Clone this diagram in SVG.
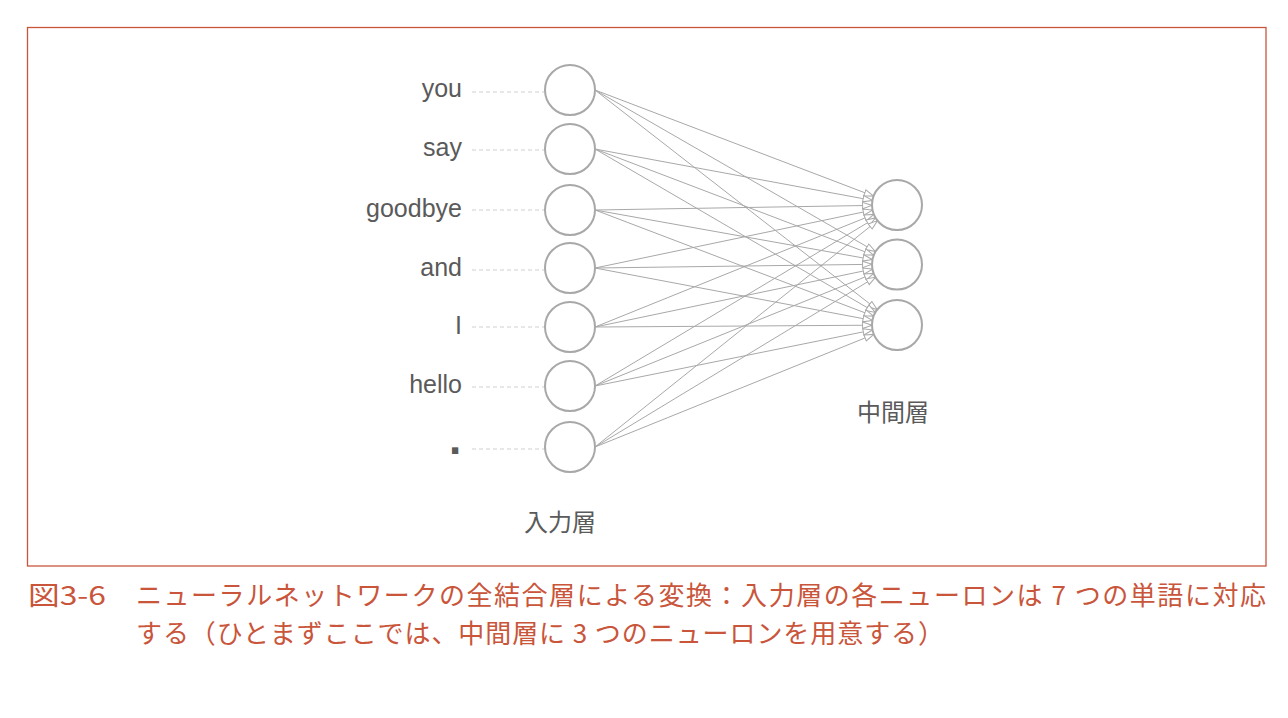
<svg xmlns="http://www.w3.org/2000/svg" width="1288" height="718" viewBox="0 0 1288 718">
<style>
.frame{fill:none;stroke:#c9553b;stroke-width:1.3}
.word{font-family:"Liberation Sans",Arial,sans-serif;font-size:25px;fill:#5a5a5a;text-anchor:end}
.layer{font-family:"Noto Sans CJK JP",sans-serif;font-size:24px;fill:#5a5a5a;text-anchor:middle}
.dash{stroke:#cfcfcf;stroke-width:1;stroke-dasharray:4 3}
.node{fill:#fff;stroke:#a8a8a8;stroke-width:2}
.edge{stroke:#a8a8a8;stroke-width:1;fill:none;marker-end:url(#arr)}
.cap{font-family:"Noto Sans CJK JP",sans-serif;font-size:26px;fill:#c9553b}
</style>
<defs>
<marker id="arr" markerUnits="userSpaceOnUse" markerWidth="12" markerHeight="10" refX="10" refY="4" orient="auto">
<path d="M0.6,0.8 L10,4 L0.6,7.2 Z" fill="#fff" stroke="#a8a8a8" stroke-width="1"/>
</marker>
</defs>
<rect class="frame" x="27.5" y="27.5" width="1238.5" height="538.5"/>
<g id="connectors">
<path class="edge" d="M595,90 L873.6,196.1"/>
<path class="edge" d="M595,90 L875.3,251.5"/>
<path class="edge" d="M595,90 L877.3,309.7"/>
<path class="edge" d="M595,149 L872.4,200.4"/>
<path class="edge" d="M595,149 L873.6,255.1"/>
<path class="edge" d="M595,149 L875.4,312.4"/>
<path class="edge" d="M595,210 L872,205.4"/>
<path class="edge" d="M595,210 L872.4,259.6"/>
<path class="edge" d="M595,210 L873.6,316.1"/>
<path class="edge" d="M595,268 L872.5,210.1"/>
<path class="edge" d="M595,268 L872,264.3"/>
<path class="edge" d="M595,268 L872.4,320.4"/>
<path class="edge" d="M595,327 L873.8,214.4"/>
<path class="edge" d="M595,327 L872.5,269.1"/>
<path class="edge" d="M595,327 L872,325.2"/>
<path class="edge" d="M595,386 L875.6,217.9"/>
<path class="edge" d="M595,386 L873.8,273.4"/>
<path class="edge" d="M595,386 L872.5,330"/>
<path class="edge" d="M595,447 L877.5,220.6"/>
<path class="edge" d="M595,447 L875.6,277"/>
<path class="edge" d="M595,447 L873.8,334.4"/>
</g>
<g id="in-you"><line class="dash" x1="472" y1="92" x2="545" y2="92"/><circle class="node" cx="570" cy="90" r="25"/><text class="word" x="462" y="97">you</text></g>
<g id="in-say"><line class="dash" x1="472" y1="150" x2="545" y2="150"/><circle class="node" cx="570" cy="149" r="25"/><text class="word" x="462" y="156">say</text></g>
<g id="in-goodbye"><line class="dash" x1="472" y1="210" x2="545" y2="210"/><circle class="node" cx="570" cy="210" r="25"/><text class="word" x="462" y="217">goodbye</text></g>
<g id="in-and"><line class="dash" x1="472" y1="270" x2="545" y2="270"/><circle class="node" cx="570" cy="268" r="25"/><text class="word" x="462" y="276">and</text></g>
<g id="in-I"><line class="dash" x1="472" y1="327" x2="545" y2="327"/><circle class="node" cx="570" cy="327" r="25"/><text class="word" x="462" y="334">I</text></g>
<g id="in-hello"><line class="dash" x1="472" y1="387" x2="545" y2="387"/><circle class="node" cx="570" cy="386" r="25"/><text class="word" x="462" y="393">hello</text></g>
<g id="in-period"><line class="dash" x1="472" y1="449" x2="545" y2="449"/><circle class="node" cx="570" cy="447" r="25"/><text x="449" y="454" style="font-family:'Liberation Sans',Arial,sans-serif;font-size:44px;font-weight:bold;fill:#5a5a5a">.</text></g>
<g id="hidden-1"><circle class="node" cx="897" cy="205" r="25"/></g>
<g id="hidden-2"><circle class="node" cx="897" cy="264.5" r="25"/></g>
<g id="hidden-3"><circle class="node" cx="897" cy="325" r="25"/></g>
<g id="labels">
<text class="layer" x="560" y="531">入力層</text>
<text class="layer" x="893" y="421">中間層</text>
</g>
<g id="caption">
<text class="cap" x="28" y="605" textLength="78" lengthAdjust="spacingAndGlyphs">図3-6</text>
<text class="cap" x="136" y="605" textLength="1130" lengthAdjust="spacing">ニューラルネットワークの全結合層による変換：入力層の各ニューロンは 7 つの単語に対応</text>
<text class="cap" x="136" y="643" textLength="808" lengthAdjust="spacing">する（ひとまずここでは、中間層に 3 つのニューロンを用意する）</text>
</g>
</svg>
